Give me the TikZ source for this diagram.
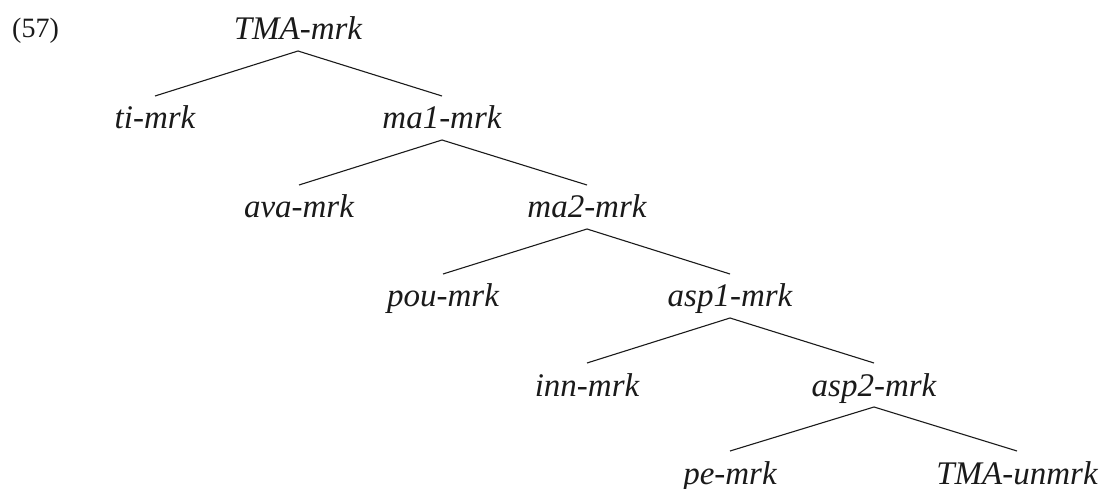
\documentclass[tikz,border=0pt]{standalone}
\usepackage{fontspec}
\setmainfont{Liberation Serif}
\usepackage{tikz}
\definecolor{tink}{HTML}{1A1A1A}
\tikzset{
  tlbl/.style={anchor=base, inner sep=0pt, outer sep=0pt,
               text height=33pt, text depth=11pt, text=tink,
               font=\fontsize{33}{39}\selectfont\itshape},
  tnum/.style={anchor=base west, inner sep=0pt, text=tink,
               font=\fontsize{28}{34}\selectfont},
  tedge/.style={draw=tink, line width=1.1pt},
}

\begin{document}
\begin{tikzpicture}[x=1pt,y=-1pt]
  \useasboundingbox (0,0) rectangle (1104,489);

  \node[tnum] (exno) at (12,38) {(57)};

  % --- nodes, one level every 89 ---
  \node[tlbl] (tma)  at (298,40)  {TMA-mrk};
  \node[tlbl] (ti)   at (155,129) {ti-mrk};
  \node[tlbl] (maA)  at (442,129) {ma1-mrk};
  \node[tlbl] (ava)  at (299,218) {ava-mrk};
  \node[tlbl] (maB)  at (587,218) {ma2-mrk};
  \node[tlbl] (pou)  at (443,307) {pou-mrk};
  \node[tlbl] (aspA) at (730,307) {asp1-mrk};
  \node[tlbl] (inn)  at (587,396) {inn-mrk};
  \node[tlbl] (aspB) at (874,396) {asp2-mrk};
  \node[tlbl] (pe)   at (730,484) {pe-mrk};
  \node[tlbl] (unm)  at (1017,484) {TMA-unmrk};

  % --- branches ---
  \foreach \p/\l/\r in {tma/ti/maA, maA/ava/maB, maB/pou/aspA,
                        aspA/inn/aspB, aspB/pe/unm}
    \draw[tedge] (\l.north) -- (\p.south) -- (\r.north);

\end{tikzpicture}
\end{document}
